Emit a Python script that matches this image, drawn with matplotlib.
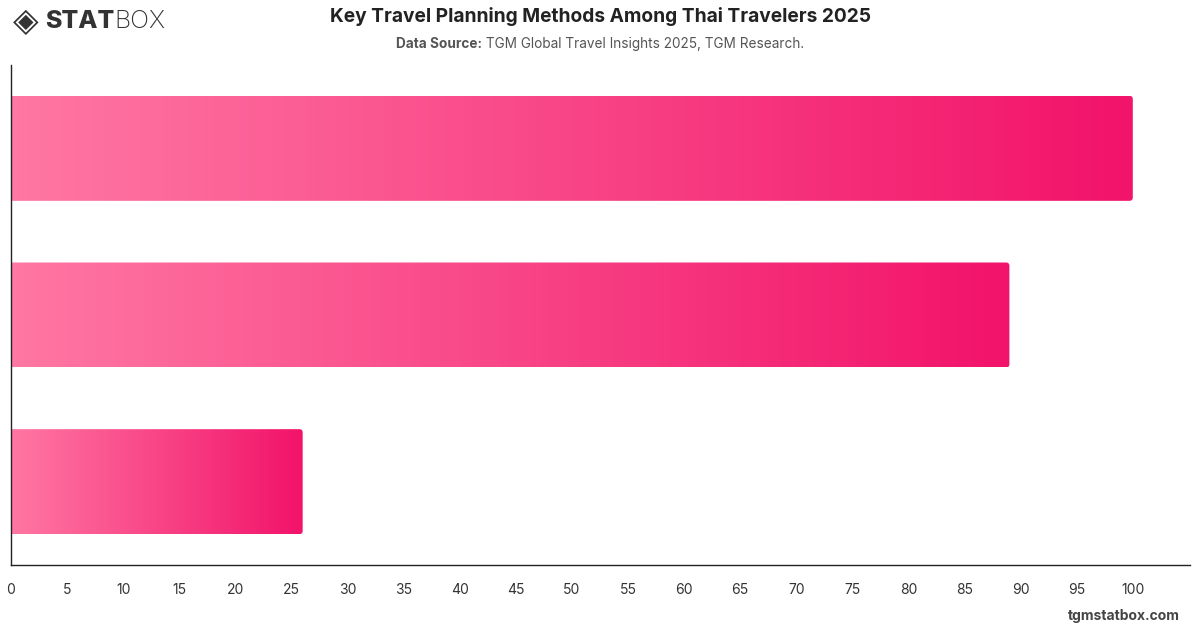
import numpy as np
import matplotlib.pyplot as plt
from matplotlib.colors import LinearSegmentedColormap
from matplotlib.patches import FancyBboxPatch

plt.rcParams['font.family'] = ['Inter', 'DejaVu Sans']

# Dane wykresu (kategorie nie są wyświetlane na osi)
categories = ["Method 1", "Method 2", "Method 3"]
values = [100, 89, 26]
x_ticks = list(range(0, 101, 5))

title = "Key Travel Planning Methods Among Thai Travelers 2025"
source_bold = "Data Source:"
source_rest = " TGM Global Travel Insights 2025, TGM Research."

fig = plt.figure(figsize=(12, 6.28), dpi=100)
ax = fig.add_axes([11 / 1200, 1 - 565 / 628, 1179 / 1200, 500 / 628])

cmap = LinearSegmentedColormap.from_list("pinkgrad", ["#FF77A3", "#F2136A"])
grad = np.linspace(0, 1, 256).reshape(1, -1)

bar_h = 0.63
for i, v in enumerate(values):
    y0 = i - bar_h / 2
    im = ax.imshow(grad, cmap=cmap, extent=[0, v, y0 + bar_h, y0],
                   aspect='auto', interpolation='bicubic', zorder=2)
    clip = FancyBboxPatch((-2, y0), v + 2, bar_h,
                          boxstyle="round,pad=0,rounding_size=0.3",
                          mutation_aspect=0.067, transform=ax.transData,
                          facecolor='none', edgecolor='none')
    ax.add_patch(clip)
    im.set_clip_path(clip)

ax.set_xlim(0, 105.1)
ax.set_ylim(2.5, -0.5)
ax.set_xticks(x_ticks)
ax.set_xticklabels([str(t) for t in x_ticks])
ax.set_yticks([])
ax.tick_params(axis='x', length=0, pad=13, labelsize=10, labelcolor='#333333')
for lbl in ax.get_xticklabels():
    lbl.set_x(lbl.get_position()[0])
for s in ['top', 'right']:
    ax.spines[s].set_visible(False)
for s in ['left', 'bottom']:
    ax.spines[s].set_color('#222222')
    ax.spines[s].set_linewidth(1.0)

# Tytuł i źródło
fig.text(0.5, 1 - 17 / 628, title, ha='center', va='center',
         fontsize=13.8, fontweight='bold', color='#222222')

r = fig.canvas.get_renderer()
t1 = fig.text(0, 1 - 44 / 628, source_bold, ha='left', va='center',
              fontsize=9.8, fontweight='bold', color='#555555')
t2 = fig.text(0, 1 - 44 / 628, source_rest, ha='left', va='center',
              fontsize=9.8, color='#555555')
w1 = t1.get_window_extent(r).width
w2 = t2.get_window_extent(r).width
x_start = 600 - (w1 + w2) / 2
t1.set_x(x_start / 1200)
t2.set_x((x_start + w1) / 1200)

# Logo
fig.text(13 / 1200, 1 - 21 / 628, "◈", ha='left', va='center', fontsize=24,
         color='#333333', family=['DejaVu Sans'], fontweight='bold')
ts = fig.text(45 / 1200, 1 - 21 / 628, "STAT", ha='left', va='center', fontsize=18,
              fontweight='heavy', color='#333333')
ws = ts.get_window_extent(r).width
fig.text((45 + ws) / 1200, 1 - 21 / 628, "BOX", ha='left', va='center', fontsize=18,
         fontweight='light', color='#333333')

# Znak wodny
fig.text(1180 / 1200, 1 - 616 / 628, "tgmstatbox.com", ha='right', va='center',
         fontsize=10, fontweight='bold', color='#444444')

fig.savefig("out.png", dpi=100)
